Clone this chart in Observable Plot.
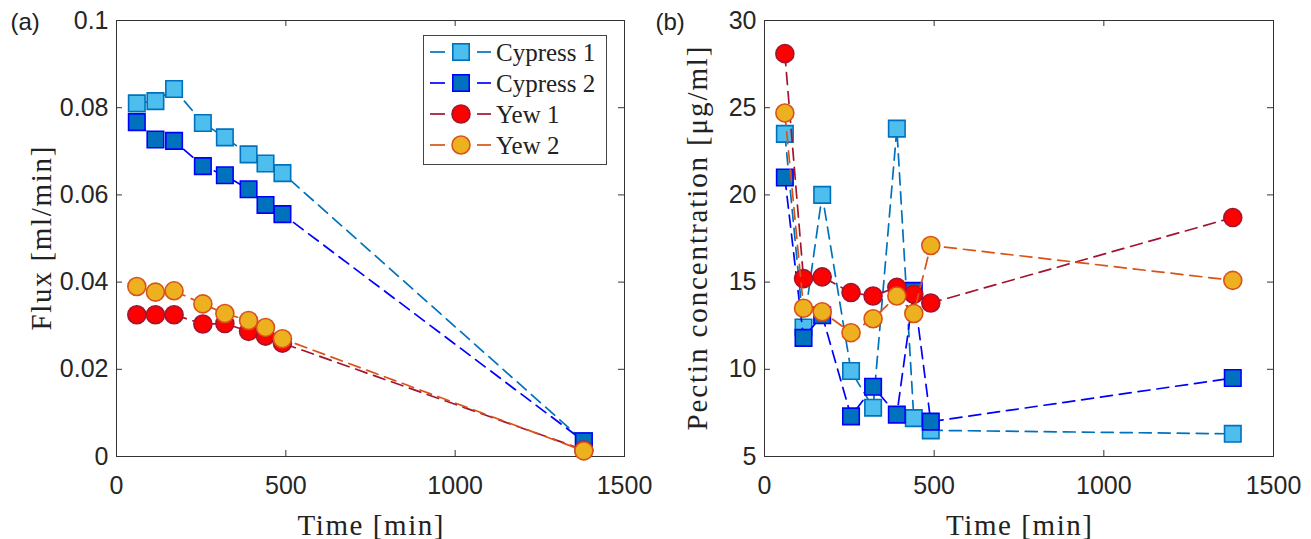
<!DOCTYPE html>
<html><head><meta charset="utf-8">
<script src="https://cdn.jsdelivr.net/npm/d3@7"></script>
<script src="https://cdn.jsdelivr.net/npm/@observablehq/plot@0.6"></script>
<style>
html,body{margin:0;padding:0;background:#fff;}
#wrap{position:relative;width:1311px;height:539px;display:flex;}
#legend{position:absolute;left:423px;top:35px;width:184px;height:130px;border:1px solid #444;background:#fff;box-sizing:border-box;}
</style></head><body><div id="wrap"></div>
<script>
// ---- data ----
const time = [60, 115, 170, 255, 320, 390, 440, 490, 1380];
const seriesNames = ["Cypress 1", "Cypress 2", "Yew 1", "Yew 2"];
const cypress1Flux = [0.0810, 0.0815, 0.0843, 0.0765, 0.0732, 0.0693, 0.0672, 0.0650, 0.0035];
const cypress2Flux = [0.0767, 0.0727, 0.0724, 0.0666, 0.0645, 0.0613, 0.0577, 0.0556, 0.0035];
const yew1Flux     = [0.0325, 0.0325, 0.0325, 0.0304, 0.0305, 0.0287, 0.0276, 0.0260, 0.0015];
const yew2Flux     = [0.0390, 0.0377, 0.0380, 0.0350, 0.0328, 0.0312, 0.0296, 0.0270, 0.0013];
const cypress1Pectin = [23.5, 12.4, 20.0, 9.9, 7.8, 23.8, 7.2, 6.5, 6.3];
const cypress2Pectin = [21.0, 11.8, 13.1, 7.3, 9.0, 7.4, 14.5, 7.0, 9.5];
const yew1Pectin     = [28.1, 15.2, 15.3, 14.4, 14.2, 14.7, 14.3, 13.8, 18.7];
const yew2Pectin     = [24.7, 13.5, 13.3, 12.1, 12.9, 14.2, 13.2, 17.1, 15.1];
const xTicks = [0, 500, 1000, 1500];
const fluxTicks = [0, 0.02, 0.04, 0.06, 0.08, 0.1];
const pectinTicks = [5, 10, 15, 20, 25, 30];

// ---- styles ----
const styles = [
  {symbol: "square", r: 9.3, line: "#0072BD", fill: "#4DBEEE", edge: "#0072BD"},
  {symbol: "square", r: 9.3, line: "#0000FF", fill: "#0072BD", edge: "#0000FF"},
  {symbol: "circle", r: 9,   line: "#A2142F", fill: "#FF0000", edge: "#A2142F"},
  {symbol: "circle", r: 9,   line: "#D95319", fill: "#EDB120", edge: "#D95319"}
];
const SERIF = "'Liberation Serif', 'Times New Roman', serif";
const SANS = "'Liberation Sans', Arial, sans-serif";

function panel(o) {
  const H = 539, mt = 20, mb = 83;
  const plotH = H - mt - mb, plotW = o.width - o.ml - o.mr;
  const marks = [
    Plot.frame({stroke: "#333", strokeWidth: 1}),
    Plot.tickX(xTicks, {x: d => d, stroke: "#333", insetTop: plotH - 6}),
    Plot.tickX(xTicks, {x: d => d, stroke: "#333", insetBottom: plotH - 6}),
    Plot.tickY(o.yTicks, {y: d => d, stroke: "#333", insetRight: plotW - 6}),
    Plot.tickY(o.yTicks, {y: d => d, stroke: "#333", insetLeft: plotW - 6}),
    Plot.axisX({ticks: xTicks, tickSize: 0, tickPadding: 20, tickFormat: d => String(d), label: null}),
    Plot.axisY({ticks: o.yTicks, tickSize: 0, tickPadding: 8, tickFormat: d => String(d), label: null})
  ];
  o.series.forEach((vals, k) => {
    const s = styles[k];
    const data = time.map((t, i) => ({t, v: vals[i]}));
    marks.push(Plot.line(data, {x: "t", y: "v", stroke: s.line, strokeWidth: 1.7, strokeDasharray: "12,7"}));
    marks.push(Plot.dot(data, {x: "t", y: "v", symbol: s.symbol, r: s.r, fill: s.fill, stroke: s.edge, strokeWidth: 1.6}));
  });
  marks.push(Plot.text([o.ylabel], {text: d => d, frameAnchor: "left", textAnchor: "middle", lineAnchor: "middle", dx: o.ylabelDx, rotate: -90, fontFamily: SERIF, fontSize: 29, fill: "#222"}));
  marks.push(Plot.text(["Time [min]"], {text: d => d, frameAnchor: "bottom", textAnchor: "middle", lineAnchor: "middle", dy: 69, fontFamily: SERIF, fontSize: 29, fill: "#222"}));
  marks.push(Plot.text([o.tag], {text: d => d, frameAnchor: "top-left", textAnchor: "start", lineAnchor: "middle", dx: o.tagDx, dy: 2, fontFamily: SANS, fontSize: 24, fill: "#222"}));
  const svg = Plot.plot({
    width: o.width, height: H,
    marginLeft: o.ml, marginRight: o.mr, marginTop: mt, marginBottom: mb,
    x: {domain: [0, 1500]},
    y: {domain: o.yDomain},
    style: {fontFamily: SANS, fontSize: "25px", color: "#262626", background: "white", overflow: "visible"},
    marks
  });
  svg.querySelectorAll("text").forEach(t => {
    const c = t.textContent;
    if (o.lengths[c]) { t.setAttribute("textLength", o.lengths[c]); t.setAttribute("lengthAdjust", "spacing"); }
  });
  return svg;
}

const wrap = document.getElementById("wrap");
wrap.appendChild(panel({
  width: 655, ml: 116, mr: 31, yDomain: [0, 0.1], yTicks: fluxTicks,
  series: [cypress1Flux, cypress2Flux, yew1Flux, yew2Flux],
  ylabel: "Flux [ml/min]", ylabelDx: -75, tag: "(a)", tagDx: -106,
  lengths: {"Flux [ml/min]": 184, "Time [min]": 146}
}));
wrap.appendChild(panel({
  width: 656, ml: 109, mr: 38, yDomain: [5, 30], yTicks: pectinTicks,
  series: [cypress1Pectin, cypress2Pectin, yew1Pectin, yew2Pectin],
  ylabel: "Pectin concentration [μg/ml]", ylabelDx: -67, tag: "(b)", tagDx: -109,
  lengths: {"Pectin concentration [μg/ml]": 384, "Time [min]": 146}
}));

// ---- legend ----
const lg = document.createElement("div");
lg.id = "legend";
wrap.appendChild(lg);
const lsvg = d3.select(lg).append("svg").attr("width", 182).attr("height", 128);
seriesNames.forEach((name, k) => {
  const s = styles[k];
  const y = 16 + k * 31;
  const g = lsvg.append("g");
  g.append("line").attr("x1", 6).attr("x2", 21).attr("y1", y).attr("y2", y).attr("stroke", s.line).attr("stroke-width", 1.7);
  g.append("line").attr("x1", 53).attr("x2", 67).attr("y1", y).attr("y2", y).attr("stroke", s.line).attr("stroke-width", 1.7);
  if (s.symbol === "square") {
    g.append("rect").attr("x", 37 - 8.2).attr("y", y - 8.2).attr("width", 16.4).attr("height", 16.4)
      .attr("fill", s.fill).attr("stroke", s.edge).attr("stroke-width", 1.6);
  } else {
    g.append("circle").attr("cx", 37).attr("cy", y).attr("r", 9).attr("fill", s.fill).attr("stroke", s.edge).attr("stroke-width", 1.6);
  }
  g.append("text").attr("x", 72).attr("y", y).attr("dy", "0.35em").attr("font-family", SERIF).attr("font-size", 25).attr("fill", "#222").text(name);
});
</script>
</body></html>
